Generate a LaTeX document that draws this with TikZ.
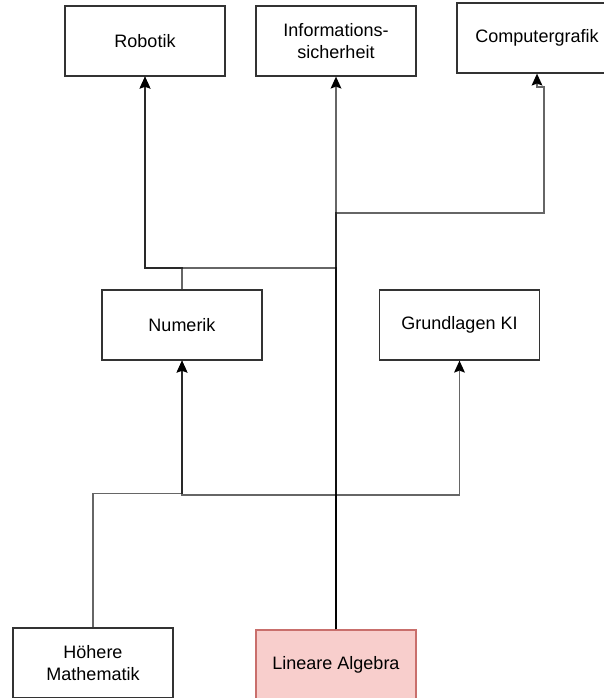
\documentclass[tikz,border=0pt]{standalone}
\usepackage{fontspec}
\setmainfont{Liberation Sans}
\usetikzlibrary{arrows.meta}
\definecolor{boxline}{HTML}{333333}
\definecolor{lafill}{HTML}{F8CECC}
\definecolor{laline}{HTML}{C96F6C}
\begin{document}
\begin{tikzpicture}[x=1pt,y=-1pt,
  course/.style={draw=boxline, line width=1.3pt, minimum width=160pt,
    minimum height=70pt, inner sep=0pt, align=center,
    font=\fontsize{18}{22}\selectfont},
  link/.style={draw=black, draw opacity=0.6, line width=1.4pt,
    -{Stealth[length=12pt,width=11pt,inset=2pt,line width=0pt,fill=black]}}]
\useasboundingbox (0,0) rectangle (604,698);
\clip (0,0) rectangle (604,698);

% courses
\node[course] (robotik) at (145,41) {Robotik};
\node[course] (info) at (336,41) {Informations-\\sicherheit};
\node[course] (cg) at (537,38) {Computergrafik};
\node[course] (numerik) at (182,325) {Numerik};
\node[course] (ki) at (459.5,325) {Grundlagen KI};
\node[course] (hm) at (93,663) {Höhere\\Mathematik};
\node[course, fill=lafill, draw=laline] (la) at (336,665) {Lineare Algebra};

% prerequisites
\draw[link] (la.north) -- (info.south);
\draw[link] (la.north) |- (544,213) -- (544,87) -- (537,87) -- (cg.south);
\draw[link] (la.north) |- (145,268) -- (robotik.south);
\draw[link] (numerik.north) |- (145,268) -- (robotik.south);
\draw[link] (la.north) |- (182,495) -- (numerik.south);
\draw[link] (la.north) |- (459.5,495) -- (ki.south);
\draw[link] (hm.north) |- (182,493.5) -- (numerik.south);
\end{tikzpicture}
\end{document}
